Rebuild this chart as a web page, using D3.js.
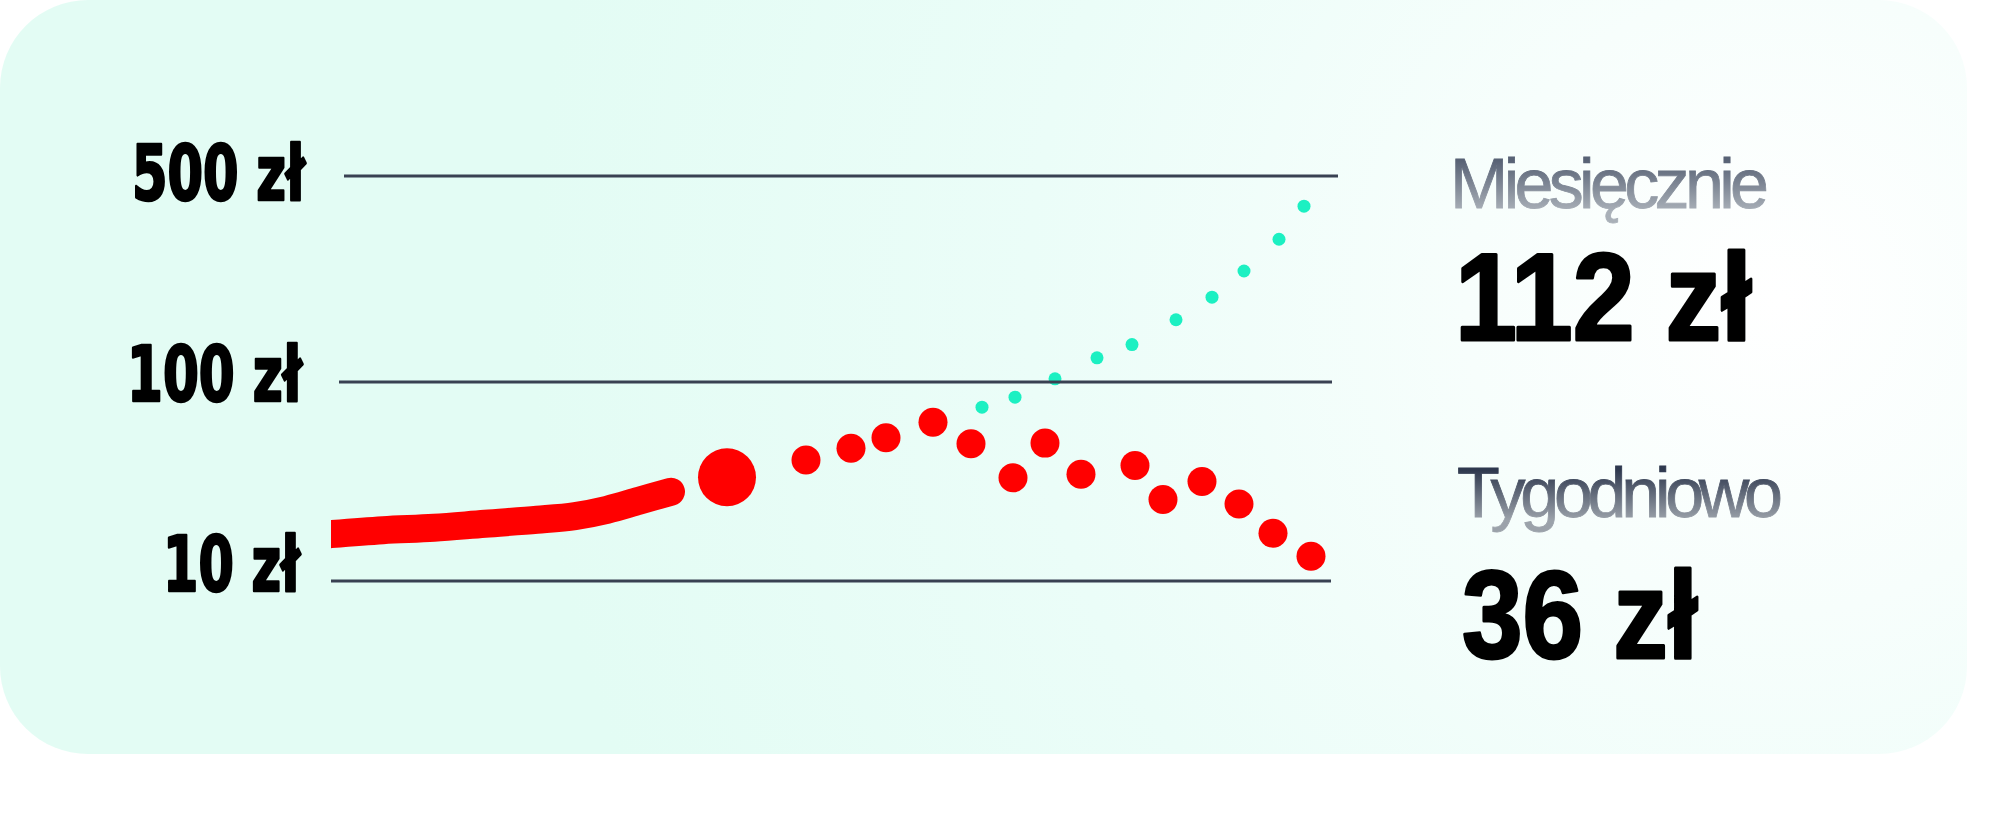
<!DOCTYPE html>
<html>
<head>
<meta charset="utf-8">
<script src="https://cdn.jsdelivr.net/npm/d3@7"></script>
<style>
  html, body { margin: 0; padding: 0; background: #ffffff; }
  svg { display: block; }
</style>
</head>
<body>
<div class="chart"></div>
<script>
// y ticks (zł) and their labels
var tickValues = [10, 100, 500];
var tickLabels = ["10 zł", "100 zł", "500 zł"];

// red series: thick line part, then the big dot, then the small dots
var lineX = [0, 5.2, 10.3, 15.4, 20.6, 24.4, 27.6, 30.8, 34.0];
var lineY = [17.2, 18.0, 18.5, 19.4, 20.3, 21.2, 22.8, 25.3, 28.1];
var bigDotX = [39.6];
var bigDotY = [33.2];
var redX = [47.5, 52, 55.5, 60.2, 64, 68.2, 71.4, 75, 80.4, 83.2, 87.1, 90.8, 94.2, 98];
var redY = [40.6, 46.5, 52.4, 62.8, 48.9, 33.0, 49.3, 34.4, 38.1, 25.7, 31.6, 24.4, 17.4, 13.3];

// teal series (monthly)
var tealX = [65.1, 68.4, 72.4, 76.6, 80.1, 84.5, 88.1, 91.3, 94.8, 97.3];
var tealY = [74.7, 83.9, 102.5, 120.8, 134, 162.6, 194, 238, 305, 395];

// side summary
var summaryTitles = ["Miesięcznie", "Tygodniowo"];
var summaryValues = ["112 zł", "36 zł"];

var svgWidth = 2003;
var svgHeight = 830;

var svg = d3.select(".chart")
    .append("svg")
    .attr("width", svgWidth)
    .attr("height", svgHeight);

var defs = svg.append("defs");

// card background gradient
var bg = defs.append("radialGradient")
    .attr("id", "cardBg")
    .attr("gradientUnits", "userSpaceOnUse")
    .attr("cx", 1780).attr("cy", 300).attr("r", 1250);
bg.append("stop").attr("offset", "0").attr("stop-color", "#ffffff");
bg.append("stop").attr("offset", "0.25").attr("stop-color", "#f7fefc");
bg.append("stop").attr("offset", "0.6").attr("stop-color", "#ebfdf8");
bg.append("stop").attr("offset", "1").attr("stop-color", "#e3fcf4");

// gray gradients for the small titles
var titleColors = [["#586275", "#a9b0b8"], ["#2e384e", "#9ba2aa"]];
titleColors.forEach(function(c, i) {
    var g = defs.append("linearGradient")
        .attr("id", "titleGrad" + i)
        .attr("x1", 0).attr("y1", 0).attr("x2", 0).attr("y2", 1);
    g.append("stop").attr("offset", "0.2").attr("stop-color", c[0]);
    g.append("stop").attr("offset", "0.85").attr("stop-color", c[1]);
});

// left end of the thick line is cut flat
defs.append("clipPath")
    .attr("id", "lineClip")
    .append("rect")
    .attr("x", 331).attr("y", 0)
    .attr("width", 1700).attr("height", 830);

svg.append("rect")
    .attr("x", 0)
    .attr("y", 0)
    .attr("width", 1967)
    .attr("height", 754)
    .attr("rx", 88)
    .attr("fill", "url(#cardBg)");

// scales
var xScale = d3.scaleLinear()
    .domain([0, 100])
    .range([331, 1331]);

// piecewise log scale, the grid is not evenly spaced
var yScale = d3.scaleLog()
    .domain([10, 100, 500])
    .range([581, 382, 176]);

var chartGroup = svg.append("g");

// thick red line
var lineData = lineX.map(function(x, i) { return [x, lineY[i]]; });
var line = d3.line()
    .x(function(d) { return xScale(d[0]); })
    .y(function(d) { return yScale(d[1]); })
    .curve(d3.curveCatmullRom);

chartGroup.append("path")
    .datum(lineData)
    .attr("d", line)
    .attr("clip-path", "url(#lineClip)")
    .attr("fill", "none")
    .attr("stroke", "#ff0000")
    .attr("stroke-width", 28)
    .attr("stroke-linecap", "round")
    .attr("stroke-linejoin", "round");

// big red dot
chartGroup.selectAll(".bigdot")
    .data(bigDotY)
    .enter()
    .append("circle")
    .attr("class", "bigdot")
    .attr("cx", function(d, i) { return xScale(bigDotX[i]); })
    .attr("cy", function(d) { return yScale(d); })
    .attr("r", 29)
    .attr("fill", "#ff0000");

// small red dots
chartGroup.selectAll(".reddot")
    .data(redY)
    .enter()
    .append("circle")
    .attr("class", "reddot")
    .attr("cx", function(d, i) { return xScale(redX[i]); })
    .attr("cy", function(d) { return yScale(d); })
    .attr("r", 14.5)
    .attr("fill", "#ff0000");

// teal dots
chartGroup.selectAll(".tealdot")
    .data(tealY)
    .enter()
    .append("circle")
    .attr("class", "tealdot")
    .attr("cx", function(d, i) { return xScale(tealX[i]); })
    .attr("cy", function(d) { return yScale(d); })
    .attr("r", 6.5)
    .attr("fill", "#1cf0c2");

// grid lines, a little hand drawn so the starts wobble
var gridStart = [0, 0.8, 1.3];
var gridEnd = [0, 0.1, 0.7];
chartGroup.selectAll(".grid")
    .data(tickValues)
    .enter()
    .append("line")
    .attr("class", "grid")
    .attr("x1", function(d, i) { return xScale(gridStart[i]); })
    .attr("x2", function(d, i) { return xScale(100 + gridEnd[i]); })
    .attr("y1", function(d) { return yScale(d); })
    .attr("y2", function(d) { return yScale(d); })
    .attr("stroke", "#394152")
    .attr("stroke-width", 3);

// y labels
var labelDy = [10, 19, 24];
var labelRight = [300, 302, 305];
var labelWidth = [137, 175, 173];
chartGroup.selectAll(".ylabel")
    .data(tickValues)
    .enter()
    .append("text")
    .attr("class", "ylabel")
    .attr("x", function(d, i) { return labelRight[i] - labelWidth[i]; })
    .attr("y", function(d, i) { return yScale(d) + labelDy[i]; })
    .attr("textLength", function(d, i) { return labelWidth[i]; })
    .attr("lengthAdjust", "spacingAndGlyphs")
    .attr("font-family", "'DejaVu Sans Condensed', 'Liberation Sans', sans-serif")
    .attr("font-weight", "bold")
    .attr("font-size", 76)
    .attr("fill", "#000000")
    .attr("stroke", "#000000")
    .attr("stroke-width", 2.5)
    .attr("stroke-linejoin", "round")
    .text(function(d, i) { return tickLabels[i]; });

// summary on the right
var titleX = [1450, 1457];
var titleY = [208, 517];
var titleW = [319, 326];
var valueX = [1455, 1462];
var valueY = [340, 658];
var valueW = [297, 236];

var side = svg.append("g");

side.selectAll(".title")
    .data(summaryTitles)
    .enter()
    .append("text")
    .attr("class", "title")
    .attr("x", function(d, i) { return titleX[i]; })
    .attr("y", function(d, i) { return titleY[i]; })
    .attr("textLength", function(d, i) { return titleW[i]; })
    .attr("lengthAdjust", "spacing")
    .attr("font-family", "'Liberation Sans', Arial, sans-serif")
    .attr("font-size", 70)
    .attr("fill", function(d, i) { return "url(#titleGrad" + i + ")"; })
    .attr("stroke", function(d, i) { return "url(#titleGrad" + i + ")"; })
    .attr("stroke-width", 0.8)
    .text(function(d) { return d; });

// big numbers: Liberation has a short ascent, so the boxes stay apart
side.selectAll(".value")
    .data(summaryValues)
    .enter()
    .append("text")
    .attr("class", "value")
    .attr("x", function(d, i) { return valueX[i]; })
    .attr("y", function(d, i) { return valueY[i]; })
    .attr("textLength", function(d, i) { return valueW[i]; })
    .attr("lengthAdjust", "spacingAndGlyphs")
    .attr("font-family", "'Liberation Sans', Arial, sans-serif")
    .attr("font-weight", "bold")
    .attr("font-size", 124)
    .attr("fill", "#000000")
    .attr("stroke", "#000000")
    .attr("stroke-width", 3)
    .attr("stroke-linejoin", "round")
    .text(function(d) { return d; });
</script>
</body>
</html>
